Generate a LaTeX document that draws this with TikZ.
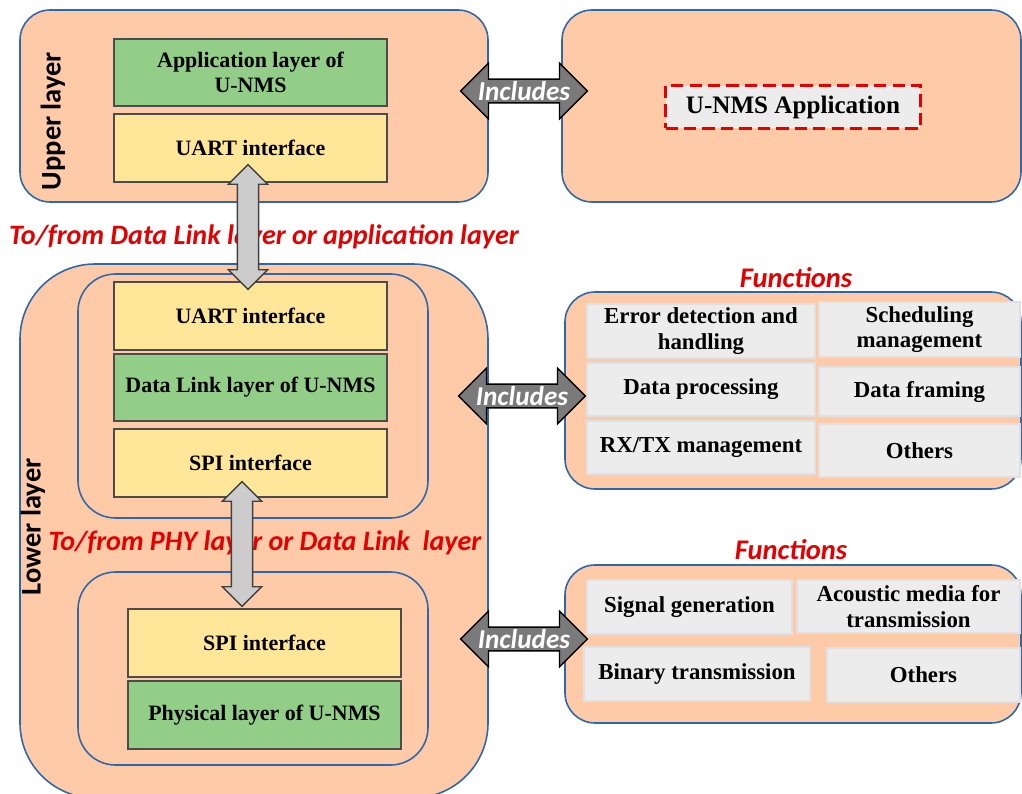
\documentclass[tikz,border=0pt]{standalone}
\usepackage{fontspec}
\setmainfont{Liberation Serif}
\newfontfamily\carlito{Carlito}
\usetikzlibrary{fit,shapes.arrows}
\definecolor{peach}{RGB}{255,202,168}
\definecolor{edgeblue}{RGB}{46,104,170}
\definecolor{layergreen}{RGB}{147,206,137}
\definecolor{ifyellow}{RGB}{255,230,153}
\definecolor{cellgray}{RGB}{236,236,236}
\definecolor{noteRed}{RGB}{226,0,0}
\begin{document}
\begin{tikzpicture}[x=0.02cm,y=-0.02cm,
  layerbox/.style={draw=edgeblue, fill=peach, line width=0.9pt, inner sep=0pt},
  boxtext/.style={align=center, font=\bfseries\fontsize{12.5}{14}\selectfont},
  celltext/.style={align=center, font=\bfseries\fontsize{13}{14.5}\selectfont},
  stackbox/.style={draw=black!70, line width=0.6pt, inner sep=0pt},
  greenbox/.style={stackbox, fill=layergreen},
  yellowbox/.style={stackbox, fill=ifyellow},
  cell/.style={draw=black!12, fill=cellgray, line width=0.6pt, inner sep=0pt},
  vlink/.style={double arrow, draw=black!75, fill=black!20, line width=0.8pt, inner xsep=0pt,
    inner ysep=0.2cm, double arrow head extend=0.18cm, minimum height=2.5cm, rotate=90},
  hlink/.style={double arrow, draw=black, fill=black!52, line width=0.8pt, inner sep=0pt,
    minimum width=1.12cm, double arrow head extend=0.28cm, minimum height=2.54cm,
    text=white, font=\carlito\bfseries\itshape\fontsize{15.5}{17}\selectfont},
  note/.style={text=noteRed, font=\carlito\bfseries\itshape\fontsize{16}{18}\selectfont},
  sidelabel/.style={rotate=90, font=\carlito\bfseries\fontsize{16.2}{18}\selectfont}]
\useasboundingbox (0,0) rectangle (1022,794);
% upper layer
\node [layerbox, rounded corners=0.6cm, fit={(20,10) (488,202)}] (upper) {};
\node [layerbox, rounded corners=0.6cm, fit={(562,10) (1021,202)}] (upperfn) {};
\node [sidelabel] (upperlbl) at (53,121) {Upper layer};
\node [greenbox, fit={(114,39) (387,106)}, label={[boxtext]center:{Application layer of\\U-NMS}}] (appl) {};
\node [yellowbox, fit={(114,114) (387,182)}, label={[boxtext]center:UART interface}] (uart1) {};
\node [draw=noteRed, dashed, dash pattern=on 7pt off 3.5pt, line width=1.7pt, fill=cellgray,
  inner sep=0pt, minimum width=5.1cm, minimum height=0.86cm,
  font=\bfseries\fontsize{14.3}{16}\selectfont] (app) at (793,107) {U-NMS Application};
\node [hlink] (inc1) at (524,91) {Includes};
% lower layer
\node [note] (note1) at (264,237) {To/from Data Link layer or application layer};
\node [layerbox, rounded corners=1.5cm, fit={(20,264) (488,798)}] (lower) {};
\node [layerbox, rounded corners=0.75cm, fit={(78,274) (428,518)}] (dll) {};
\node [layerbox, rounded corners=0.75cm, fit={(78,572) (428,765)}] (phy) {};
\node [sidelabel] (lowerlbl) at (33,527) {Lower layer};
\node [yellowbox, fit={(114,282) (387,350)}, label={[boxtext]center:UART interface}] (uart2) {};
\node [greenbox, fit={(114,354) (387,421)}, label={[boxtext]center:Data Link layer of U-NMS}] (datalink) {};
\node [yellowbox, fit={(114,429) (387,497)}, label={[boxtext]center:SPI interface}] (spi1) {};
\node [yellowbox, fit={(128,609) (401,677)}, label={[boxtext]center:SPI interface}] (spi2) {};
\node [greenbox, fit={(128,681) (401,749)}, label={[boxtext]center:Physical layer of U-NMS}] (physical) {};
\node [note] (note2) at (265,543) {To/from PHY layer or Data Link\ \ layer};
\node [vlink] (link1) at (248,227) {};
\node [vlink] (link2) at (242,544) {};
% data link functions
\node [note, font=\carlito\bfseries\itshape\fontsize{16.2}{18}\selectfont] (fn1) at (796,278) {Functions};
\node [layerbox, rounded corners=0.6cm, fit={(565,292) (1021,489)}] (dllfn) {};
\node [cell, fit={(587,304) (815,358)}, label={[celltext]center:{Error detection and\\handling}}] (err) {};
\node [cell, fit={(819,302) (1020,357)}, label={[celltext]center:{Scheduling\\management}}] (sched) {};
\node [cell, fit={(587,363) (815,416)}, label={[celltext]center:Data processing}] (proc) {};
\node [cell, fit={(819,367) (1020,416)}, label={[celltext]center:Data framing}] (frame) {};
\node [cell, fit={(587,421) (815,474)}, label={[celltext]center:RX/TX management}] (rxtx) {};
\node [cell, fit={(819,424) (1020,477)}, label={[celltext]center:Others}] (other1) {};
\node [hlink] (inc2) at (522,396) {Includes};
% physical functions
\node [note, font=\carlito\bfseries\itshape\fontsize{16.2}{18}\selectfont] (fn2) at (791,550) {Functions};
\node [layerbox, rounded corners=0.6cm, fit={(565,565) (1021,723)}] (phyfn) {};
\node [cell, fit={(587,580) (792,634)}, label={[celltext]center:Signal generation}] (sig) {};
\node [cell, fit={(797,580) (1020,633)}, label={[celltext]center:{Acoustic media for\\transmission}}] (media) {};
\node [cell, fit={(584,647) (810,701)}, label={[celltext]center:Binary transmission}] (bin) {};
\node [cell, fit={(827,648) (1020,702)}, label={[celltext]center:Others}] (other2) {};
\node [hlink] (inc3) at (524,639) {Includes};
\end{tikzpicture}
\end{document}
